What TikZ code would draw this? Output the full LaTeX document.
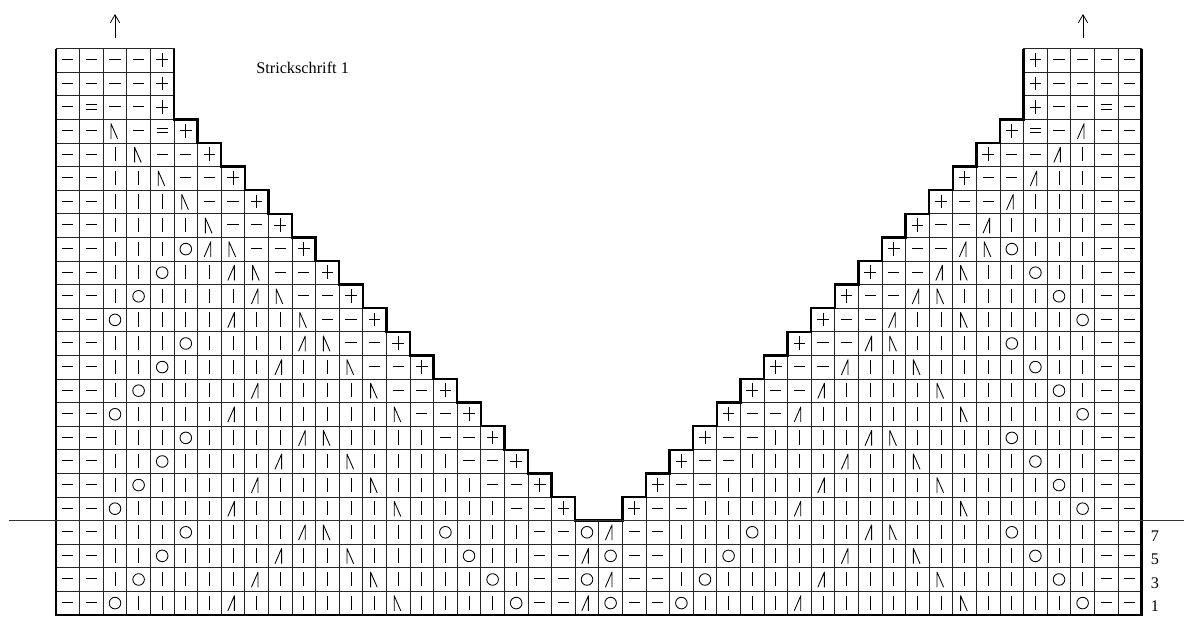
\documentclass[tikz,border=0pt]{standalone}
\usepackage{fontspec}
\setmainfont{Liberation Serif}
\usetikzlibrary{arrows.meta}
\tikzset{
  cellline/.style={line width=0.65pt,black!85},
  outline/.style={line width=1.8pt,black,line join=miter},
  glyph/.style={line width=0.65pt,black,line join=round},
  upstrand/.style={line width=0.6pt,-{Straight Barb[length=6pt,width=7pt,line width=0.6pt]}},
  rule/.style={line width=0.6pt,black!80},
  rownum/.style={font=\fontsize{12.2}{12.2}\selectfont,inner sep=0pt}
}
\newcount\colc
\def\symm{\draw[glyph] (-5.6,-0.8)--(5.6,-0.8);}
\def\symp{\draw[glyph] (-5.8,-0.6)--(5.8,-0.6) (0,-7.4)--(0,6.4);}
\def\syme{\draw[glyph] (-5.6,-2.8)--(5.6,-2.8) (-5.6,1.6)--(5.6,1.6);}
\def\symi{\draw[glyph] (0,-7.6)--(0,6.6);}
\def\symb{\draw[glyph] (2.6,7.6)--(-4,-7.6)--(-4,7.6);}
\def\symf{\draw[glyph] (-5.2,7.6)--(1.4,-7.6)--(1.4,7.6);}
\def\symo{\draw[glyph] (0,-0.2) circle (5.8);}
\def\drawsym#1{%
  \draw[cellline] (\the\colc,\rr) rectangle +(1,1);
  \begin{scope}[shift={(\the\colc+.5,\rr+.5)},x=.75pt,y=-.75pt]
    \csname sym#1\endcsname
  \end{scope}}
\def\rowsym#1{\ifx#1.\else\drawsym{#1}\advance\colc by 1 \expandafter\rowsym\fi}
\def\symrow#1#2#3{\colc=#2\relax\def\rr{#1}\rowsym#3.}
\begin{document}
\begin{tikzpicture}
\useasboundingbox (0,0) rectangle (888pt,-464.25pt);
\begin{scope}[shift={(42pt,-36.5pt)},x=17.7pt,y=-17.7pt]
% left block
\symrow{0}{0}{mmmmp}
\symrow{1}{0}{mmmmp}
\symrow{2}{0}{memmp}
\symrow{3}{0}{mmbmep}
\symrow{4}{0}{mmibmmp}
\symrow{5}{0}{mmiibmmp}
\symrow{6}{0}{mmiiibmmp}
\symrow{7}{0}{mmiiiibmmp}
\symrow{8}{0}{mmiiiofbmmp}
\symrow{9}{0}{mmiioiifbmmp}
\symrow{10}{0}{mmioiiiifbmmp}
\symrow{11}{0}{mmoiiiifiibmmp}
\symrow{12}{0}{mmiiioiiiifbmmp}
\symrow{13}{0}{mmiioiiiifiibmmp}
\symrow{14}{0}{mmioiiiifiiiibmmp}
\symrow{15}{0}{mmoiiiifiiiiiibmmp}
\symrow{16}{0}{mmiiioiiiifbiiiimmp}
\symrow{17}{0}{mmiioiiiifiibiiiimmp}
\symrow{18}{0}{mmioiiiifiiiibiiiimmp}
\symrow{19}{0}{mmoiiiifiiiiiibiiiimmp}
% right block
\symrow{0}{41}{pmmmm}
\symrow{1}{41}{pmmmm}
\symrow{2}{41}{pmmem}
\symrow{3}{40}{pemfmm}
\symrow{4}{39}{pmmfimm}
\symrow{5}{38}{pmmfiimm}
\symrow{6}{37}{pmmfiiimm}
\symrow{7}{36}{pmmfiiiimm}
\symrow{8}{35}{pmmfboiiimm}
\symrow{9}{34}{pmmfbiioiimm}
\symrow{10}{33}{pmmfbiiiioimm}
\symrow{11}{32}{pmmfiibiiiiomm}
\symrow{12}{31}{pmmfbiiiioiiimm}
\symrow{13}{30}{pmmfiibiiiioiimm}
\symrow{14}{29}{pmmfiiiibiiiioimm}
\symrow{15}{28}{pmmfiiiiiibiiiiomm}
\symrow{16}{27}{pmmiiiifbiiiioiiimm}
\symrow{17}{26}{pmmiiiifiibiiiioiimm}
\symrow{18}{25}{pmmiiiifiiiibiiiioimm}
\symrow{19}{24}{pmmiiiifiiiiiibiiiiomm}
% full rows
\symrow{20}{0}{mmiiioiiiifbiiiioiiimmofmmiiioiiiifbiiiioiiimm}
\symrow{21}{0}{mmiioiiiifiibiiiioiimmfommiioiiiifiibiiiioiimm}
\symrow{22}{0}{mmioiiiifiiiibiiiioimmofmmioiiiifiiiibiiiioimm}
\symrow{23}{0}{mmoiiiifiiiiiibiiiiommfommoiiiifiiiiiibiiiiomm}
% thick outline
\draw[outline] (0,0)--(0,24)--(46,24)--(46,0);
\draw[outline] (41,0)--(41,3)
  \foreach \r in {3,...,19}{ -- ({43-\r},\r) -- ({43-\r},\r+1) }
  -- (22,20)
  \foreach \r in {19,18,...,3}{ -- ({\r+3},\r+1) -- ({\r+3},\r) }
  -- (5,3) -- (5,0);
\end{scope}
% parting line, arrows, labels
\begin{scope}[x=.75pt,y=-.75pt]
\coordinate (ruleL) at (9,520.7);
\coordinate (ruleR) at (1184,520.7);
\draw[rule] (ruleL)--(ruleR);
\coordinate (arrLa) at (115,38);
\coordinate (arrLb) at (115,14);
\coordinate (arrRa) at (1083,38);
\coordinate (arrRb) at (1083,14);
\draw[upstrand] (arrLa)--(arrLb);
\draw[upstrand] (arrRa)--(arrRb);
\node[rownum,anchor=west] (title) at (256,67.5) {Strickschrift 1};
\node[rownum] (n7) at (1155,536) {7};
\node[rownum] (n5) at (1155,559.5) {5};
\node[rownum] (n3) at (1155,583) {3};
\node[rownum] (n1) at (1155,606.5) {1};
\end{scope}
\end{tikzpicture}
\end{document}
